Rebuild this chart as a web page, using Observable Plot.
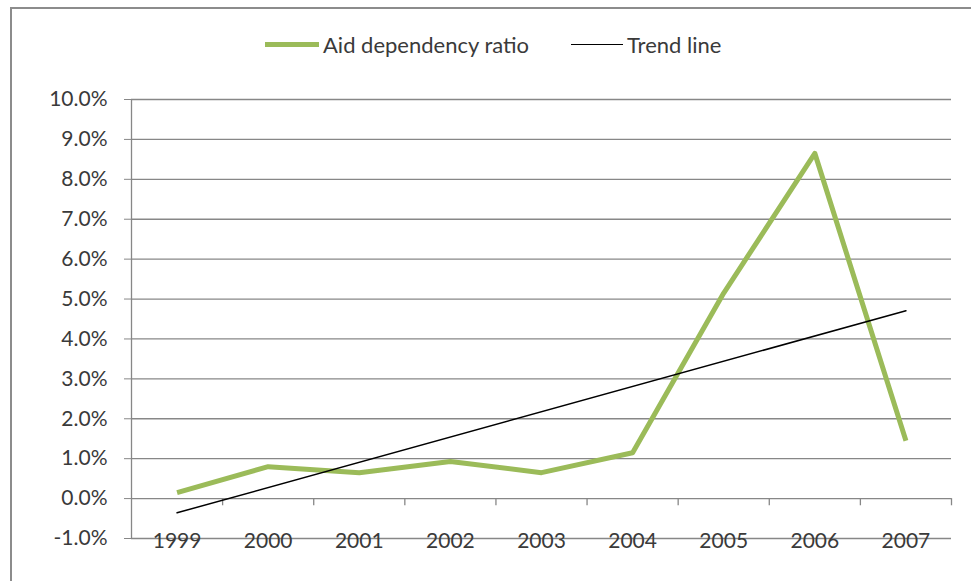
<!DOCTYPE html>
<html>
<head>
<meta charset="utf-8">
<script src="https://cdn.jsdelivr.net/npm/d3@7"></script>
<script src="https://cdn.jsdelivr.net/npm/@observablehq/plot@0.6"></script>
<style>
  body { margin: 0; background: #fff; }
  #wrap { position: relative; width: 971px; height: 581px; overflow: hidden; font-family: Lato, sans-serif; }
  #frame { position: absolute; left: 10px; top: 7px; width: 980px; height: 600px; border-top: 2px solid #8c8c8c; border-left: 2px solid #8c8c8c; }
  #legend { position: absolute; top: 31px; left: 265px; display: flex; align-items: center; font-size: 22px; color: #3a3a3a; white-space: nowrap; }
  .sw { display: inline-block; width: 54px; margin-right: 4px; }
  #chart { position: absolute; left: 0; top: 0; }
</style>
</head>
<body>
<div id="wrap">
  <div id="frame"></div>
  <div id="chart"></div>
  <div id="legend">
    <span class="sw" style="height:5px;background:#9BBB59"></span><span>Aid dependency ratio</span>
    <span class="sw" style="height:1.5px;background:#000;margin-left:42px;width:52px"></span><span>Trend line</span>
  </div>
</div>
<script>
const years = [1999, 2000, 2001, 2002, 2003, 2004, 2005, 2006, 2007];
const ratio = [0.15, 0.80, 0.65, 0.93, 0.65, 1.15, 5.15, 8.65, 1.45];
const yTicks = [-1, 0, 1, 2, 3, 4, 5, 6, 7, 8, 9, 10];

const data = years.map((y, i) => ({year: y, value: ratio[i]}));
const bounds = years.map(y => y + 0.5);
const grid = "#878787";
const textColor = "#3a3a3a";

const chart = Plot.plot({
  width: 971,
  height: 581,
  marginTop: 99,
  marginBottom: 43,
  marginLeft: 131,
  marginRight: 20,
  style: {fontFamily: "Lato, sans-serif", background: "transparent", overflow: "visible"},
  x: {domain: [years[0] - 0.5, years[years.length - 1] + 0.5], axis: null},
  y: {domain: [-1, 10], axis: null},
  marks: [
    Plot.ruleY(yTicks, {stroke: grid, strokeWidth: 1.3}),
    Plot.ruleX([years[0] - 0.5], {stroke: grid, strokeWidth: 1.3}),
    Plot.axisY({ticks: yTicks, label: null, tickSize: 7, tickPadding: 17, stroke: grid, color: textColor, fontSize: 21, tickFormat: d => d.toFixed(1) + "%"}),
    Plot.ruleX(bounds, {y1: 0, y2: -0.18, stroke: grid, strokeWidth: 1.3}),
    Plot.text(years, {x: d => d, y: -1, text: d => String(d), dy: 3, fill: textColor, fontSize: 21}),
    Plot.line(data, {x: "year", y: "value", stroke: "#9BBB59", strokeWidth: 5, strokeLinejoin: "round", strokeLinecap: "butt"}),
    Plot.linearRegressionY(data, {x: "year", y: "value", stroke: "#000", strokeWidth: 1.5, ci: 0})
  ]
});
document.getElementById("chart").appendChild(chart);
</script>
</body>
</html>
